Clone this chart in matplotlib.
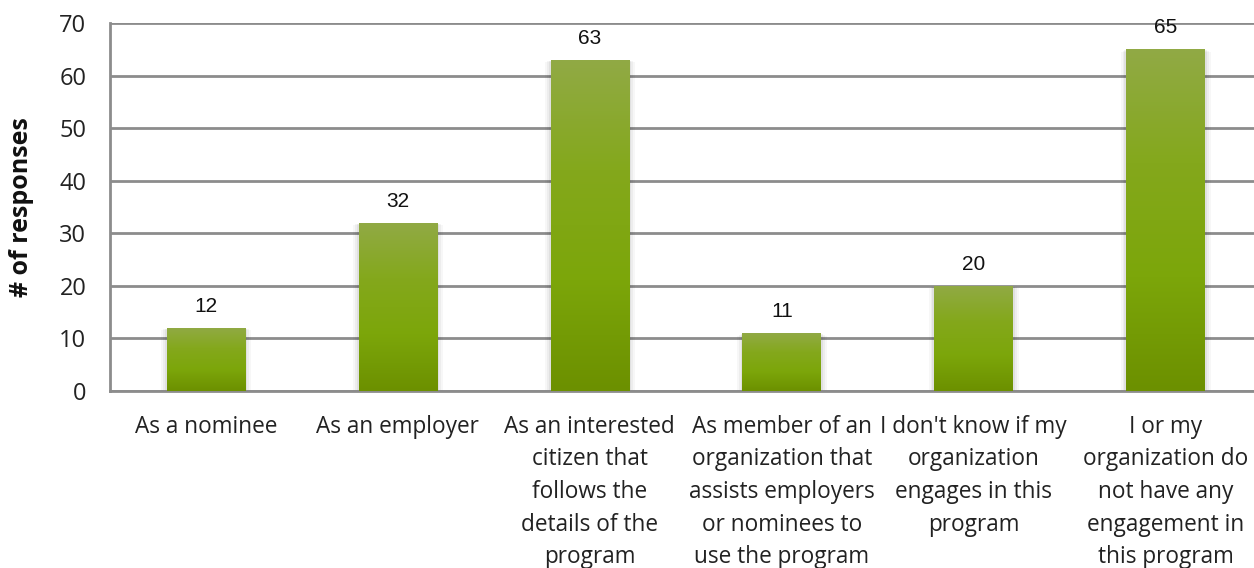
import numpy as np
import matplotlib
matplotlib.use("Agg")
import matplotlib.pyplot as plt
from matplotlib.colors import LinearSegmentedColormap
from matplotlib.patches import Rectangle

# survey answers and counts
categories = [
    "As a nominee",
    "As an employer",
    "As an interested\ncitizen that\nfollows the\ndetails of the\nprogram",
    "As member of an\norganization that\nassists employers\nor nominees to\nuse the program",
    "I don't know if my\norganization\nengages in this\nprogram",
    "I or my\norganization do\nnot have any\nengagement in\nthis program",
]
responses = [12, 32, 63, 11, 20, 65]
yticks = [0, 10, 20, 30, 40, 50, 60, 70]

fig = plt.figure(figsize=(12.54, 5.68), dpi=100)
ax = fig.add_axes([0.0877, 0.3116, 0.9123, 0.648])

x = np.arange(len(categories))
width = 0.41

# plain bars first so the axes scale is set, then paint a gradient over them
bars = ax.bar(x, responses, width=width, color="none", zorder=3)

cmap = LinearSegmentedColormap.from_list(
    "olive", ["#6c9000", "#7ca60a", "#84a81c", "#91aa45"])
grad = np.linspace(0, 1, 256).reshape(-1, 1)

for b in bars:
    x0, y0 = b.get_x(), b.get_y()
    w, h = b.get_width(), b.get_height()
    # soft drop shadow
    for k, a in enumerate([0.03, 0.04, 0.05]):
        off = 0.01 * (3 - k)
        sh = Rectangle((x0 - off, y0 - off * 25), w + off * 2,
                       h + off * 10, facecolor="black", alpha=a,
                       edgecolor="none", zorder=2)
        ax.add_patch(sh)
    im = ax.imshow(grad, extent=[x0, x0 + w, y0, y0 + h], origin="lower",
                   cmap=cmap, aspect="auto", zorder=3)
    im.set_clip_path(b)

for xi, v in zip(x, responses):
    ax.text(xi, v + 2.3, str(v), ha="center", va="bottom", fontsize=15,
            family="Liberation Sans", color="#111111")

ax.set_xlim(-0.5, 5.46)
ax.set_ylim(0, 70)
ax.set_yticks(yticks)
ax.set_yticklabels([str(t) for t in yticks], fontsize=17, family="Open Sans",
                   color="#222222")
ax.set_xticks(x)
ax.set_xticklabels(categories, fontsize=16.3, family="Open Sans",
                   color="#222222", linespacing=1.48, va="top")
ax.tick_params(axis="both", length=0)
ax.tick_params(axis="y", pad=17)
ax.tick_params(axis="x", pad=17)

ax.yaxis.grid(True, color="#8c8c8c", linewidth=2, zorder=0)
ax.set_axisbelow(True)
for s in ["top", "right"]:
    ax.spines[s].set_visible(False)
for s in ["left", "bottom"]:
    ax.spines[s].set_color("#8c8c8c")
    ax.spines[s].set_linewidth(2)

ax.set_ylabel("# of responses", fontsize=18, fontweight="bold",
              family="Open Sans", color="#111111")
ax.yaxis.set_label_coords(-0.066, 0.5)

fig.savefig("out.png", dpi=100)
